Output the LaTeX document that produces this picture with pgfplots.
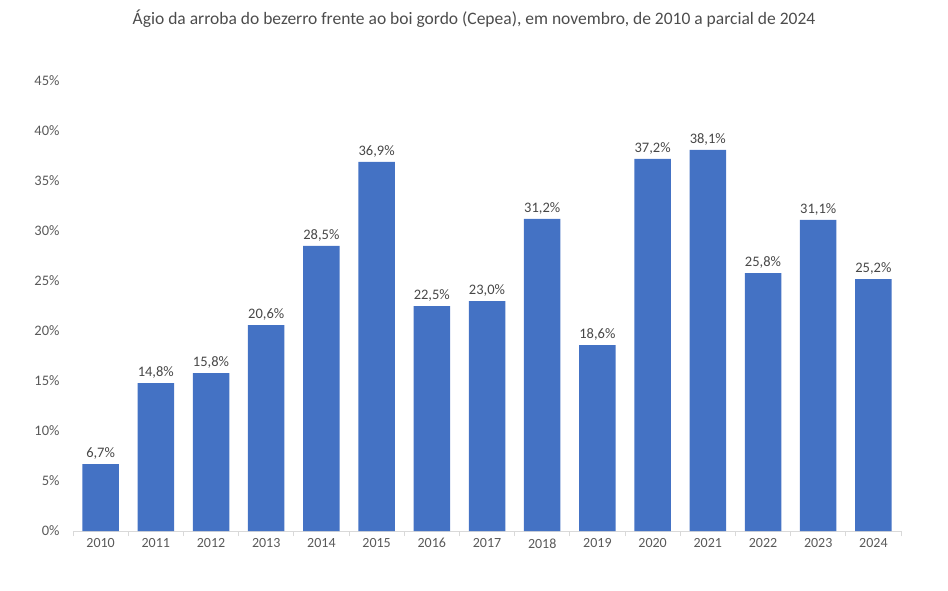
\documentclass[border=0pt]{standalone}
\usepackage{pgfplots}
\pgfplotsset{compat=1.18}
\usepackage{fontspec}
\setmainfont{Carlito}
\definecolor{barblue}{HTML}{4472C4}
\definecolor{txt}{HTML}{595959}
\definecolor{axisgray}{HTML}{D9D9D9}
\begin{document}
\begin{tikzpicture}
\useasboundingbox (0,0) rectangle (948pt,590pt);
\node[font=\fontsize{17.5}{20}\selectfont, text=txt!85!black, anchor=center] at (474pt,571pt) {Ágio da arroba do bezerro frente ao boi gordo (Cepea), em novembro, de 2010 a parcial de 2024};
\begin{axis}[
  at={(73pt,59pt)}, anchor=south west,
  scale only axis, width=828pt, height=450pt,
  xmin=-0.5, xmax=14.5, ymin=0, ymax=45,
  axis y line=none,
  axis x line*=bottom,
  x axis line style={axisgray, line width=1pt, -},
  xtick={0,...,14},
  xticklabels={2010,2011,2012,2013,2014,2015,2016,2017,2018,2019,2020,2021,2022,2023,2024},
  minor xtick={-0.5,0.5,...,14.5},
  major tick length=0pt,
  minor tick length=5pt,
  x tick style={axisgray, line width=1pt},
  tick align=outside,
  xticklabel style={font=\fontsize{14}{16}\selectfont, text=txt, yshift=-4pt},
  ytick=\empty,
  clip=false,
  /pgf/number format/assume math mode=true,
  nodes near coords={\pgfmathprintnumber[fixed, fixed zerofill, precision=1, use comma, assume math mode=true]{\pgfplotspointmeta}\%},
  nodes near coords style={font=\fontsize{14.5}{16}\selectfont, text=txt!80!black, yshift=1pt},
]
\addplot[ybar, bar width=36.5pt, fill=barblue, draw=none] coordinates {
(0,6.7) (1,14.8) (2,15.8) (3,20.6) (4,28.5) (5,36.9) (6,22.5) (7,23.0) (8,31.2) (9,18.6) (10,37.2) (11,38.1) (12,25.8) (13,31.1) (14,25.2)
};
\end{axis}
\foreach \v [count=\i from 0] in {0,5,10,15,20,25,30,35,40,45} {
  \node[anchor=east, font=\fontsize{14.5}{16}\selectfont, text=txt] at (63pt, 59pt + \i*50pt) {\v\%};
}
\end{tikzpicture}
\end{document}
